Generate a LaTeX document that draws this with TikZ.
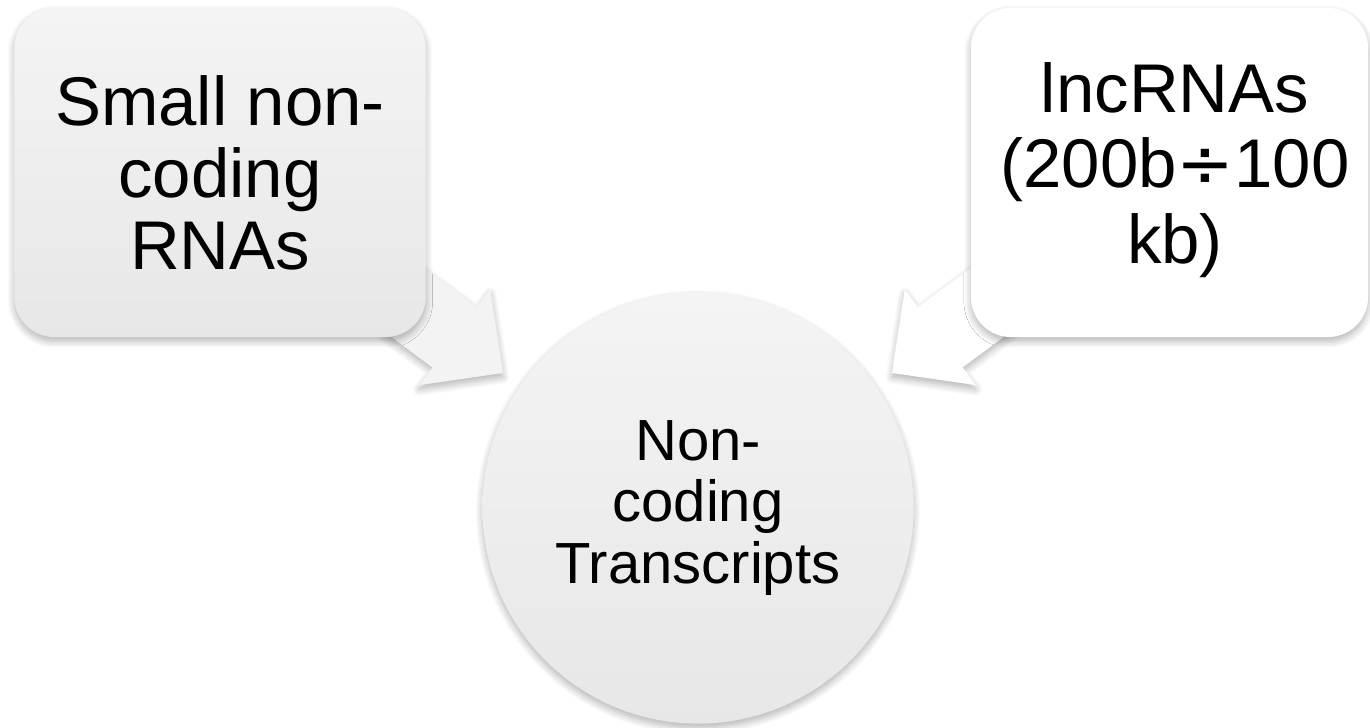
\documentclass[tikz,border=0pt]{standalone}
\usepackage{fontspec}
\setmainfont{Liberation Sans}
\newfontfamily\dejavu{DejaVu Sans}
\usetikzlibrary{shadows.blur}

\definecolor{boxtop}{HTML}{F4F4F4}
\definecolor{boxbot}{HTML}{E7E7E7}
\definecolor{arrowgray}{HTML}{F3F3F3}

\tikzset{
  softshadow/.style={blur shadow={shadow xshift=0pt, shadow yshift=-1.2pt,
      shadow blur radius=2pt, shadow opacity=30, shadow blur steps=8}},
  box/.style={rectangle, rounded corners=0.4cm, minimum height=3.29cm,
      align=center, inner sep=0pt, font=\fontsize{19.6}{20.5}\selectfont, softshadow},
  graybox/.style={box, top color=boxtop, bottom color=boxbot},
  whitebox/.style={box, fill=white},
  hub/.style={circle, minimum size=4.31cm, align=center, inner sep=0pt,
      top color=boxtop, bottom color=boxbot,
      font=\fontsize{16.5}{17.6}\selectfont, softshadow},
  blockarrow/.style={softshadow},
}

\begin{document}
\begin{tikzpicture}[x=0.01cm, y=-0.01cm]
  \useasboundingbox (0,0) rectangle (1370,728);

  % block arrows (behind the boxes)
  \path[blockarrow, fill=arrowgray]
    (388.6,241.6) -- (477.1,307.1) -- (490.2,289.5) -- (503,373)
    -- (419.4,385.1) -- (432.5,367.5) -- (344,302) -- cycle;
  \path[blockarrow, fill=white]
    (1006.4,241.6) -- (917.9,307.1) -- (904.8,289.5) -- (892,373)
    -- (975.6,385.1) -- (962.5,367.5) -- (1051,302) -- cycle;

  % boxes
  \node[graybox, minimum width=4.11cm] (small) at (220,172.5)
    {Small non-\\coding\\RNAs};
  \node[whitebox, minimum width=3.97cm] (lnc) at (1169.5,172.5) {};
  \node[align=center, inner sep=0pt, font=\fontsize{19.6}{21.5}\selectfont]
    (lnctext) at (1175,170)
    {lncRNAs\\(200b{\dejavu ÷}100\\kb)};

  % hub
  \node[hub] (hubnode) at (698,508) {Non-\\coding\\Transcripts};
\end{tikzpicture}
\end{document}
